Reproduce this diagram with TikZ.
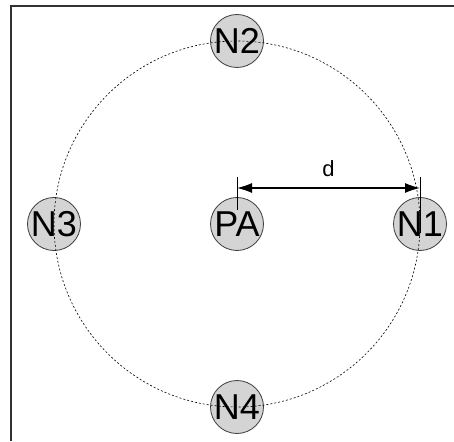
\documentclass[tikz,border=0pt]{standalone}
\usepackage{fontspec}
\setmainfont{Liberation Sans}
\usepackage{tikz}
\usetikzlibrary{arrows.meta, positioning, calc}
\definecolor{nodefill}{RGB}{212, 212, 212}
\definecolor{nodeborder}{RGB}{60, 60, 60}
\definecolor{framecolor}{RGB}{50, 50, 50}

\begin{document}
\begin{tikzpicture}[
    x=1pt, y=1pt,
    node distance = 183pt, on grid,
    % Define styles
    station/.style = {circle, draw=nodeborder, fill=nodefill, line width=0.8pt, minimum size=53pt, inner sep=0pt, font=\fontsize{36}{36}\selectfont},
    orbit/.style = {draw=black, line width=0.6pt, dash pattern=on 2pt off 2pt},
    tick/.style = {draw=black, line width=0.9pt},
    arrow/.style = {line width=1.2pt, {Latex[length=15pt,width=10pt]}-{Latex[length=15pt,width=10pt]}},
    label/.style = {font=\fontsize{22}{22}\selectfont, inner sep=1pt}
]
\useasboundingbox (-237,-217) rectangle (217,224);

% Frame
\draw [framecolor, line width=1.2pt] (-226,-217) -- (-226,218) -- (217,218);

% Nodes
\node [station] (PA) at (0,0) {PA};
\node [station, right=of PA] (N1) {N1};
\node [station, above=of PA] (N2) {N2};
\node [station, left=of PA] (N3) {N3};
\node [station, below=of PA] (N4) {N4};

% Range circle
\draw [orbit] (PA.center) circle[radius=183];

% Distance
\coordinate (patop) at ($(PA.center)+(0,47)$);
\coordinate (pabot) at ($(PA.center)+(0,14)$);
\coordinate (n1top) at ($(N1.center)+(0,47)$);
\coordinate (n1bot) at ($(N1.center)+(0,-9)$);
\coordinate (paarr) at ($(PA.center)+(0,36)$);
\coordinate (n1arr) at ($(N1.center)+(0,36)$);
\draw [tick] (patop) -- (pabot);
\draw [tick] (n1top) -- (n1bot);
\draw [arrow] (paarr) -- node[label, above=10pt] {d} (n1arr);

\end{tikzpicture}
\end{document}
